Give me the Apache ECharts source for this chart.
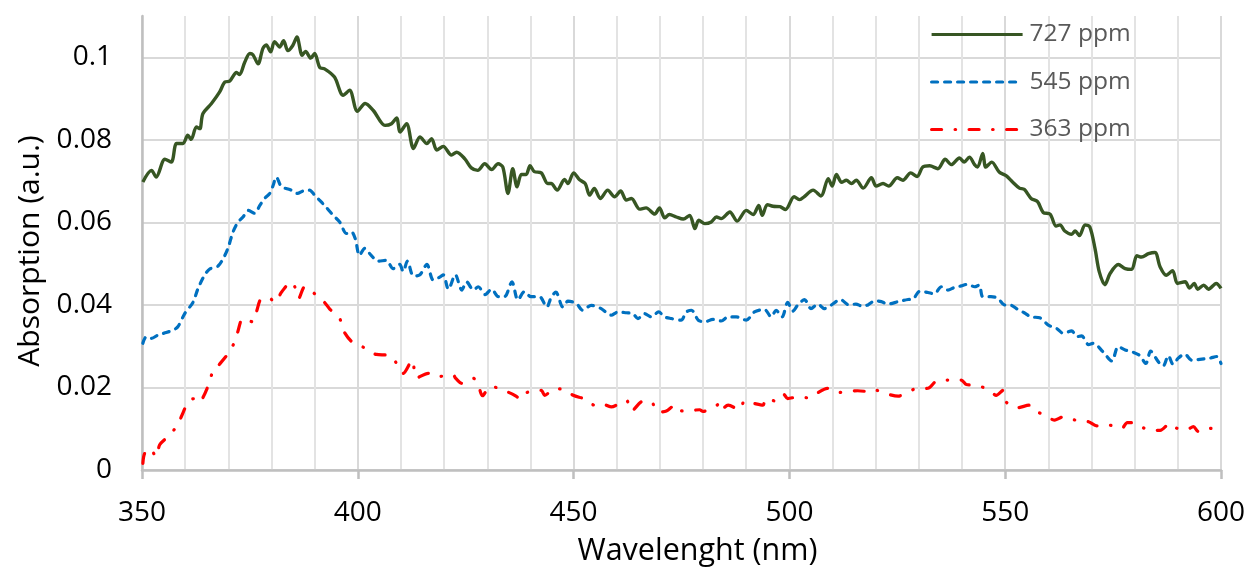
<!DOCTYPE html>
<html><head><meta charset="utf-8">
<script src="https://cdn.jsdelivr.net/npm/echarts@6/dist/echarts.min.js"></script>
<style>html,body{margin:0;padding:0;background:#fff}#c{width:1245px;height:568px}</style>
</head><body><div id="c"></div>
<script>
const seriesNames = ['727 ppm', '545 ppm', '363 ppm'];
const yTicks = [0, 0.02, 0.04, 0.06, 0.08, 0.1];

const wl727 = [350.2,352.2,353.3,355.3,356.8,358.0,359.5,360.6,361.4,362.6,363.4,364.1,366.1,368.0,369.2,370.3,371.9,372.6,373.8,375.0,375.7,376.9,378.0,378.8,379.8,380.7,381.9,382.8,383.8,384.9,385.9,387.1,387.9,389.1,390.0,391.2,392.3,394.6,396.6,398.1,399.9,401.7,403.6,406.3,407.8,409.0,409.8,411.3,412.9,414.4,416.0,417.1,418.3,419.8,421.7,422.9,424.8,426.3,427.8,429.4,431.0,432.5,433.6,434.8,435.9,436.9,437.9,439.0,439.9,440.9,442.5,444.0,444.8,446.2,447.9,448.7,450.0,451.4,452.7,453.7,454.8,456.2,457.9,459.5,460.9,462.2,463.4,465.3,466.8,468.8,469.9,471.1,472.2,473.8,475.4,476.9,478.1,479.0,480.4,481.9,483.1,484.2,486.2,487.9,490.0,491.6,492.9,493.7,494.9,496.2,497.8,499.1,501.1,502.4,503.4,505.5,507.3,509.0,509.9,510.9,512.1,513.2,514.4,515.5,517.1,519.0,520.1,521.7,523.0,525.0,526.3,528.1,529.6,530.9,532.5,534.4,536.1,537.5,539.4,540.5,541.7,542.9,543.6,544.8,545.5,546.9,548.6,550.2,551.7,553.3,554.4,556.0,557.5,558.8,560.4,561.8,562.7,563.8,565.4,566.2,567.2,568.5,569.6,570.8,571.8,573.1,574.3,576.2,577.8,579.3,580.5,581.6,583.2,584.7,585.9,587.3,588.8,589.9,591.7,592.7,593.8,594.6,596.0,597.1,598.9,600.0];
const abs727 = [0.0698,0.0726,0.0710,0.0753,0.0746,0.0791,0.0791,0.0811,0.0801,0.0831,0.0827,0.0863,0.0888,0.0916,0.0940,0.0942,0.0963,0.0958,0.0988,0.1009,0.1006,0.0984,0.1021,0.1030,0.1013,0.1038,0.1025,0.1040,0.1016,0.1028,0.1049,0.1005,0.1014,0.0998,0.1009,0.0975,0.0972,0.0952,0.0908,0.0920,0.0869,0.0888,0.0871,0.0835,0.0839,0.0853,0.0819,0.0839,0.0779,0.0807,0.0791,0.0803,0.0775,0.0784,0.0763,0.0770,0.0754,0.0732,0.0726,0.0742,0.0728,0.0742,0.0734,0.0670,0.0730,0.0686,0.0716,0.0716,0.0737,0.0723,0.0720,0.0694,0.0694,0.0678,0.0704,0.0694,0.0720,0.0703,0.0694,0.0666,0.0682,0.0658,0.0678,0.0662,0.0676,0.0654,0.0658,0.0632,0.0635,0.0620,0.0635,0.0611,0.0619,0.0613,0.0608,0.0617,0.0585,0.0605,0.0597,0.0601,0.0613,0.0609,0.0625,0.0603,0.0629,0.0619,0.0641,0.0617,0.0643,0.0639,0.0638,0.0631,0.0662,0.0655,0.0662,0.0678,0.0664,0.0706,0.0688,0.0716,0.0697,0.0702,0.0694,0.0702,0.0683,0.0708,0.0688,0.0694,0.0688,0.0708,0.0702,0.0720,0.0711,0.0734,0.0737,0.0730,0.0753,0.0740,0.0756,0.0746,0.0758,0.0740,0.0734,0.0767,0.0734,0.0746,0.0722,0.0713,0.0698,0.0683,0.0680,0.0658,0.0650,0.0624,0.0620,0.0591,0.0594,0.0579,0.0571,0.0579,0.0568,0.0594,0.0589,0.0537,0.0480,0.0449,0.0476,0.0498,0.0488,0.0486,0.0519,0.0516,0.0524,0.0527,0.0492,0.0472,0.0483,0.0452,0.0456,0.0441,0.0452,0.0438,0.0448,0.0438,0.0452,0.0440];

const wl545 = [350.2,351.0,352.2,353.7,355.6,357.2,358.3,359.9,361.8,363.0,364.5,365.7,367.6,368.8,369.9,371.1,372.2,373.4,374.6,376.1,377.3,378.4,379.6,380.4,381.1,382.3,383.4,384.6,386.0,387.3,388.8,390.0,391.0,392.3,394.3,395.8,397.4,398.5,399.4,400.4,401.6,403.1,404.7,406.6,408.2,409.7,410.5,411.5,412.9,414.4,416.0,417.5,419.1,419.8,421.0,422.6,424.1,425.2,426.8,427.9,429.5,431.0,432.6,434.0,435.7,437.1,438.6,440.1,442.1,443.8,444.8,445.9,447.5,448.7,450.6,452.1,454.1,456.4,458.7,460.3,462.2,463.7,464.9,466.4,468.0,469.7,471.1,472.6,474.9,476.1,477.3,478.9,480.4,482.3,484.2,485.8,487.7,490.0,491.9,494.2,495.8,496.9,498.3,499.6,500.8,501.9,503.5,505.0,506.6,508.1,509.6,511.8,513.8,515.4,516.9,518.2,519.8,521.3,522.8,525.2,527.5,528.6,530.2,532.1,533.6,535.2,536.7,538.2,539.8,541.3,542.9,544.0,544.8,546.7,548.3,549.8,551.4,552.9,554.4,556.0,558.0,560.0,561.9,563.5,565.4,566.6,567.7,569.3,570.4,572.7,574.7,576.2,577.8,579.7,581.2,582.6,583.7,585.5,586.6,587.8,588.9,590.1,591.6,593.2,595.1,597.4,599.0,600.0];
const abs545 = [0.0307,0.0323,0.0319,0.0327,0.0333,0.0339,0.0347,0.0379,0.0406,0.0440,0.0472,0.0487,0.0494,0.0512,0.0537,0.0577,0.0600,0.0613,0.0629,0.0622,0.0641,0.0658,0.0670,0.0690,0.0710,0.0686,0.0682,0.0678,0.0670,0.0676,0.0678,0.0666,0.0655,0.0641,0.0617,0.0601,0.0573,0.0577,0.0561,0.0520,0.0537,0.0520,0.0506,0.0508,0.0488,0.0498,0.0481,0.0506,0.0470,0.0473,0.0498,0.0460,0.0468,0.0473,0.0438,0.0473,0.0436,0.0456,0.0436,0.0444,0.0425,0.0438,0.0420,0.0420,0.0456,0.0412,0.0432,0.0420,0.0420,0.0395,0.0418,0.0431,0.0395,0.0409,0.0404,0.0387,0.0399,0.0391,0.0375,0.0383,0.0381,0.0379,0.0367,0.0379,0.0371,0.0383,0.0371,0.0367,0.0363,0.0383,0.0387,0.0363,0.0359,0.0365,0.0361,0.0371,0.0371,0.0363,0.0383,0.0389,0.0371,0.0387,0.0371,0.0406,0.0385,0.0399,0.0413,0.0391,0.0402,0.0391,0.0399,0.0413,0.0400,0.0402,0.0397,0.0400,0.0410,0.0408,0.0402,0.0408,0.0413,0.0414,0.0433,0.0430,0.0427,0.0444,0.0436,0.0442,0.0446,0.0450,0.0444,0.0448,0.0420,0.0420,0.0416,0.0400,0.0399,0.0389,0.0381,0.0371,0.0369,0.0351,0.0343,0.0331,0.0337,0.0323,0.0325,0.0304,0.0307,0.0286,0.0264,0.0299,0.0291,0.0285,0.0277,0.0258,0.0288,0.0262,0.0252,0.0277,0.0256,0.0271,0.0281,0.0266,0.0268,0.0271,0.0275,0.0258];

const wl363 = [350.2,350.6,351.8,353.3,354.1,356.0,358.3,359.1,361.0,362.6,363.4,364.1,365.4,366.4,367.6,369.8,371.5,372.2,373.4,375.7,376.5,377.8,379.6,380.7,382.4,384.6,385.4,386.3,387.7,389.1,391.2,392.3,393.5,395.8,396.6,398.5,401.2,402.4,404.3,407.0,408.6,410.5,412.6,413.6,416.3,417.9,420.2,422.1,422.7,424.1,426.8,427.8,428.9,430.7,432.6,435.6,437.9,438.3,440.2,442.5,443.3,445.6,447.9,449.9,452.6,454.9,456.4,458.7,462.2,463.4,466.1,468.0,469.6,471.5,473.4,474.2,476.1,479.2,480.0,482.3,483.9,484.2,485.8,488.5,489.6,491.9,493.9,494.4,496.9,498.7,499.6,501.9,504.2,506.2,508.8,511.5,513.1,515.8,519.3,520.1,522.4,525.2,526.7,529.4,532.1,534.0,536.7,539.8,541.0,543.5,546.4,547.9,549.5,550.2,552.9,555.6,557.1,558.8,561.5,563.5,566.2,569.3,571.2,573.9,577.0,578.3,580.5,582.8,585.9,588.2,589.8,592.1,593.6,594.8,597.5,600.0];
const abs363 = [0.0016,0.0040,0.0052,0.0032,0.0061,0.0081,0.0109,0.0129,0.0169,0.0173,0.0165,0.0175,0.0206,0.0238,0.0252,0.0280,0.0311,0.0335,0.0367,0.0359,0.0383,0.0416,0.0416,0.0406,0.0432,0.0456,0.0444,0.0416,0.0444,0.0436,0.0414,0.0406,0.0390,0.0367,0.0339,0.0312,0.0298,0.0288,0.0280,0.0278,0.0264,0.0234,0.0266,0.0223,0.0234,0.0226,0.0228,0.0230,0.0222,0.0210,0.0222,0.0210,0.0180,0.0203,0.0198,0.0185,0.0173,0.0183,0.0191,0.0193,0.0181,0.0197,0.0195,0.0181,0.0172,0.0157,0.0161,0.0153,0.0169,0.0143,0.0167,0.0165,0.0140,0.0143,0.0156,0.0144,0.0143,0.0146,0.0142,0.0150,0.0161,0.0146,0.0157,0.0146,0.0167,0.0161,0.0157,0.0173,0.0167,0.0183,0.0173,0.0177,0.0175,0.0185,0.0198,0.0188,0.0189,0.0192,0.0189,0.0193,0.0185,0.0179,0.0185,0.0197,0.0198,0.0215,0.0218,0.0218,0.0207,0.0205,0.0193,0.0181,0.0193,0.0165,0.0151,0.0157,0.0142,0.0135,0.0121,0.0129,0.0121,0.0117,0.0107,0.0109,0.0101,0.0115,0.0113,0.0098,0.0096,0.0113,0.0101,0.0098,0.0105,0.0093,0.0101,0.0089];

const pairs = (xs, ys) => xs.map((x, i) => [x, ys[i]]);
const FONT = '"Open Sans", "Liberation Sans", sans-serif';

const chart = echarts.init(document.getElementById('c'), null, {renderer: 'canvas'});
chart.setOption({
  animation: false,
  backgroundColor: '#ffffff',
  grid: {left: 142, right: 24, top: 16, bottom: 98, containLabel: false, outerBoundsMode: 'none'},
  legend: {
    orient: 'vertical', left: 925, top: 17,
    itemWidth: 91, itemHeight: 14, itemGap: 22.5,
    itemStyle: {color: 'rgba(0,0,0,0)', borderColor: 'rgba(0,0,0,0)', borderWidth: 0},
    lineStyle: {width: 3.2},
    textStyle: {fontFamily: FONT, fontSize: 24.5, color: '#595959', padding: [0, 0, 0, 2]},
    data: seriesNames
  },
  xAxis: {
    type: 'value', min: 350, max: 600, interval: 50,
    name: 'Wavelenght (nm)', nameLocation: 'middle', nameGap: 66,
    nameTextStyle: {fontFamily: FONT, fontSize: 30.5, color: '#000', padding: [0, 0, 0, 32]},
    axisLine: {show: true, lineStyle: {color: '#bfbfbf', width: 2.5}},
    axisTick: {show: true, length: 9, lineStyle: {color: '#bfbfbf', width: 2.5}},
    axisLabel: {fontFamily: FONT, fontSize: 28, color: '#000', margin: 29},
    splitLine: {show: true, lineStyle: {color: '#d9d9d9', width: 2}},
    minorTick: {show: false, splitNumber: 5},
    minorSplitLine: {show: true, lineStyle: {color: '#e3e3e3', width: 2}}
  },
  yAxis: {
    type: 'value', min: 0, max: 0.11, interval: 0.02,
    name: 'Absorption (a.u.)', nameLocation: 'middle', nameGap: 97,
    nameTextStyle: {fontFamily: FONT, fontSize: 30, color: '#000', padding: [0, 16, 0, 0]},
    axisLine: {show: true, lineStyle: {color: '#bfbfbf', width: 2.5}},
    axisTick: {show: false},
    axisLabel: {fontFamily: FONT, fontSize: 28, color: '#000', margin: 30,
      formatter: v => (yTicks.some(t => Math.abs(t - v) < 1e-9) ? String(+v.toFixed(2)) : '')},
    showMaxLabel: false,
    splitLine: {show: true, lineStyle: {color: ['#d9d9d9','#d9d9d9','#d9d9d9','#d9d9d9','#d9d9d9','#d9d9d9','rgba(0,0,0,0)'], width: 2}}
  },
  series: [
    {name: seriesNames[0], type: 'line', symbol: 'none', smooth: 0.3,
     lineStyle: {color: '#375623', width: 3.4}, itemStyle: {color: '#375623'},
     data: pairs(wl727, abs727)},
    {name: seriesNames[1], type: 'line', symbol: 'none', smooth: 0.3,
     lineStyle: {color: '#0070c0', width: 3.2, type: [6, 7], cap: 'round'}, itemStyle: {color: '#0070c0'},
     data: pairs(wl545, abs545)},
    {name: seriesNames[2], type: 'line', symbol: 'none', smooth: 0.3,
     lineStyle: {color: '#ff0000', width: 3.2, type: [10, 13.5, 0.5, 13.5], cap: 'round'}, itemStyle: {color: '#ff0000'},
     data: pairs(wl363, abs363)}
  ]
});
</script></body></html>
